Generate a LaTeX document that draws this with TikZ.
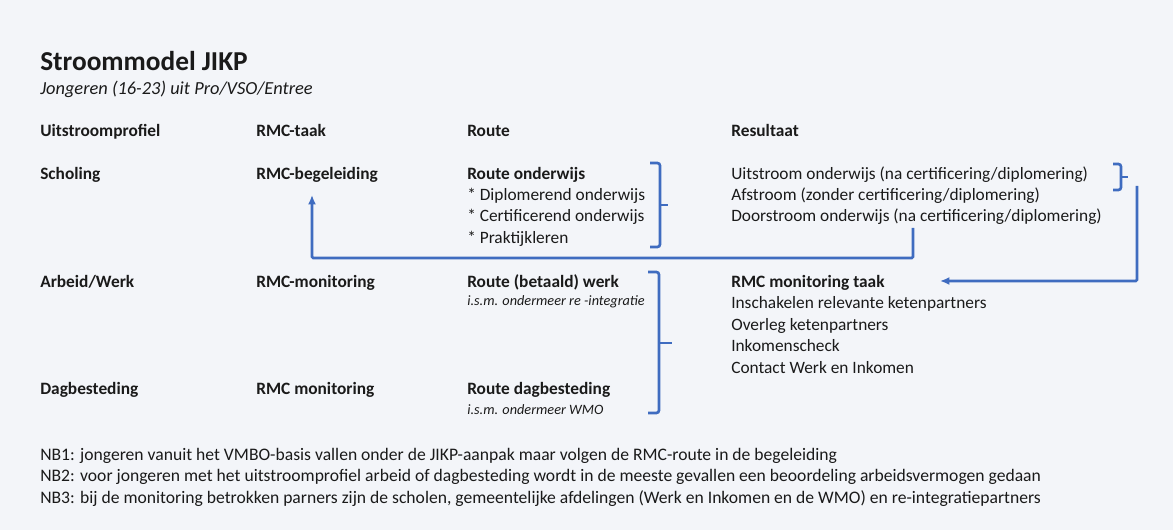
\documentclass[tikz,border=0pt]{standalone}
\usepackage{fontspec}
\setmainfont{Carlito}
\usetikzlibrary{arrows.meta}
\definecolor{bg}{HTML}{F3F5F9}
\definecolor{ink}{HTML}{1A1A1A}
\definecolor{lineblue}{HTML}{3F6CC0}
\begin{document}
\begin{tikzpicture}[x=0.75pt,y=-0.75pt,
  txt/.style={anchor=base west,inner sep=0pt,text=ink,font=\fontsize{13}{15}\selectfont},
  note/.style={txt,font=\fontsize{13.2}{15}\selectfont},
  bold/.style={txt,font=\fontsize{13}{15}\selectfont\bfseries},
  small/.style={txt,font=\fontsize{10.7}{12}\selectfont\itshape},
  conn/.style={draw=lineblue,line width=2pt},
  arr/.style={conn,-{Latex[length=7pt,width=6pt]}},
  brace/.style={draw=lineblue,line width=2pt,rounded corners=2pt}]
\fill[bg] (0,0) rectangle (1173,530);
\useasboundingbox (0,0) rectangle (1173,530);
% title
\node[txt,font=\fontsize{20.5}{24}\selectfont\bfseries] (title) at (40,71) {Stroommodel JIKP};
\node[txt,font=\fontsize{13.8}{16}\selectfont\itshape] (sub) at (40,95) {Jongeren (16-23) uit Pro/VSO/Entree};
% headers
\node[bold] (h1) at (40,137) {Uitstroomprofiel};
\node[bold] (h2) at (256,137) {RMC-taak};
\node[bold] (h3) at (467,137) {Route};
\node[bold] (h4) at (731,137) {Resultaat};
% row scholing
\node[bold] (sch) at (40,180) {Scholing};
\node[bold] (rmcb) at (256,180) {RMC-begeleiding};
\node[bold] (ro) at (467,180) {Route onderwijs};
\node[txt] (ro1) at (467,201) {* Diplomerend onderwijs};
\node[txt] (ro2) at (467,222) {* Certificerend onderwijs};
\node[txt] (ro3) at (467,244) {* Praktijkleren};
\node[txt] (r1) at (731,180) {Uitstroom onderwijs (na certificering/diplomering)};
\node[txt] (r2) at (731,201) {Afstroom (zonder certificering/diplomering)};
\node[txt] (r3) at (731,222) {Doorstroom onderwijs (na certificering/diplomering)};
% row arbeid
\node[bold] (arb) at (40,288) {Arbeid/Werk};
\node[bold] (rmcm) at (256,288) {RMC-monitoring};
\node[bold] (rw) at (467,288) {Route (betaald) werk};
\node[small] (rwi) at (467,306) {i.s.m. ondermeer re -integratie};
\node[bold] (mt) at (731,288) {RMC monitoring taak};
\node[txt] (m1) at (731,309) {Inschakelen relevante ketenpartners};
\node[txt] (m2) at (731,331) {Overleg ketenpartners};
\node[txt] (m3) at (731,352) {Inkomenscheck};
\node[txt] (m4) at (731,374) {Contact Werk en Inkomen};
% row dagbesteding
\node[bold] (dag) at (40,394) {Dagbesteding};
\node[bold] (rmcm2) at (256,394) {RMC monitoring};
\node[bold] (rd) at (467,394) {Route dagbesteding};
\node[small] (rdi) at (467,414) {i.s.m. ondermeer WMO};
% notes
\node[note] (nb1) at (40,460) {NB1: jongeren vanuit het VMBO-basis vallen onder de JIKP-aanpak maar volgen de RMC-route in de begeleiding};
\node[note] (nb2) at (40,481) {NB2: voor jongeren met het uitstroomprofiel arbeid of dagbesteding wordt in de meeste gevallen een beoordeling arbeidsvermogen gedaan};
\node[note] (nb3) at (40,503) {NB3: bij de monitoring betrokken parners zijn de scholen, gemeentelijke afdelingen (Werk en Inkomen en de WMO) en re-integratiepartners};
% braces
\draw[brace] (650,163) -- (660,163) -- (660,247) -- (650,247);
\draw[conn] (660,205) -- (668,205);
\draw[brace] (1113,164) -- (1121,164) -- (1121,190) -- (1113,190);
\draw[conn] (1121,177) -- (1128,177);
\draw[brace] (648,272) -- (659,272) -- (659,413) -- (648,413);
\draw[conn] (659,343) -- (672,343);
% connectors
\coordinate (d0) at (913,228);
\coordinate (d1) at (913,258);
\coordinate (d2) at (312,258);
\coordinate (dEnd) at (312,195);
\coordinate (a0) at (1137,186);
\coordinate (a1) at (1137,281);
\coordinate (aEnd) at (940,281);
\draw[arr,rounded corners=1pt] (d0) -- (d1) -- (d2) -- (dEnd);
\draw[arr,rounded corners=1pt] (a0) -- (a1) -- (aEnd);
\end{tikzpicture}
\end{document}
